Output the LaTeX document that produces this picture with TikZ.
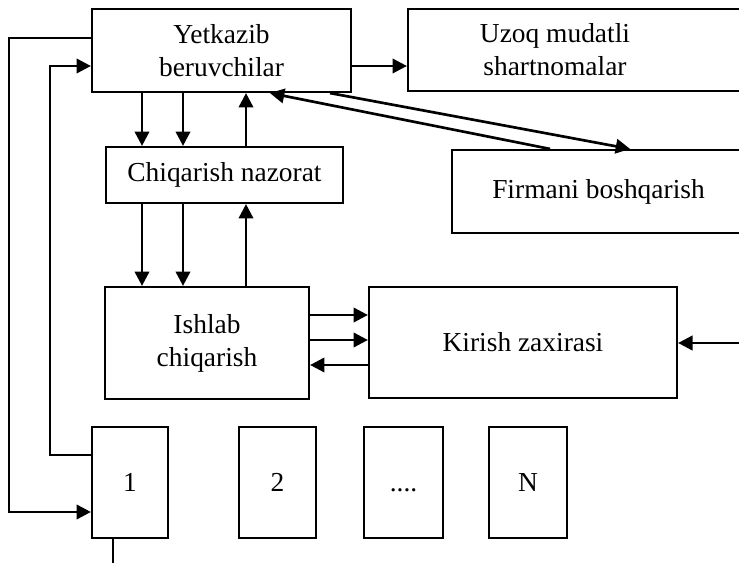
\documentclass[tikz,border=0pt]{standalone}
\usepackage{fontspec}
\setmainfont{Liberation Serif}
\usetikzlibrary{arrows.meta}
\tikzset{
  blok/.style={draw, line width=1.5pt, inner sep=0pt, align=center},
  arr/.style={-{Triangle[length=3.6mm, width=3.6mm]}, line width=1.9pt},
  lin/.style={line width=1.9pt}
}
\newcommand{\blok}[6]{%
  \node[blok, minimum width=#4, minimum height=#5] (#1) at (#2,#3) {#6};}

\begin{document}
\begin{tikzpicture}[x=0.025cm, y=-0.025cm,
    font=\fontsize{19.5}{23.5}\selectfont]
  \useasboundingbox (0,0) rectangle (739,563);
  % boxes
  \blok{yet}{221.5}{50.5}{6.475cm}{2.075cm}{Yetkazib\\beruvchilar}
  \blok{uzoq}{576.5}{50}{8.425cm}{2.05cm}{}
  \node[align=center] (uzoqtxt) at (555,50) {Uzoq mudatli\\shartnomalar};
  \blok{firm}{598.5}{191.5}{7.325cm}{2.075cm}{Firmani boshqarish}
  \blok{chiq}{224.5}{175}{5.925cm}{1.4cm}{Chiqarish nazorat}
  \blok{ishlab}{207}{343}{5.1cm}{2.8cm}{Ishlab\\chiqarish}
  \blok{kirish}{523}{342.5}{7.7cm}{2.775cm}{Kirish zaxirasi}
  \blok{b1}{130}{482.5}{1.9cm}{2.775cm}{1}
  \blok{b2}{277.5}{482.5}{1.925cm}{2.775cm}{2}
  \blok{b3}{403.5}{482.5}{1.975cm}{2.775cm}{\vphantom{1}....}
  \blok{bN}{528}{482.5}{1.95cm}{2.775cm}{N}
  % columns and rows for the connectors
  \coordinate (cA) at (142,0);
  \coordinate (cB) at (183,0);
  \coordinate (cC) at (246,0);
  \coordinate (rA) at (0,315);
  \coordinate (rB) at (0,340);
  \coordinate (rC) at (0,365);
  \coordinate (rY) at (0,66);
  \coordinate (outA) at (9,38);
  \coordinate (outB) at (9,512);
  \coordinate (inA) at (50,455);
  \coordinate (inB) at (50,66);
  \coordinate (kin) at (739,343);
  \coordinate (bout) at (113,563);
  % connectors
  \draw[arr] (rY -| yet.east) -- (rY -| uzoq.west);
  \draw[arr] (cA |- yet.south) -- (cA |- chiq.north);
  \draw[arr] (cB |- yet.south) -- (cB |- chiq.north);
  \draw[arr] (cC |- chiq.north) -- (cC |- yet.south);
  \draw[arr] (cA |- chiq.south) -- (cA |- ishlab.north);
  \draw[arr] (cB |- chiq.south) -- (cB |- ishlab.north);
  \draw[arr] (cC |- ishlab.north) -- (cC |- chiq.south);
  \draw[arr] (rA -| ishlab.east) -- (rA -| kirish.west);
  \draw[arr] (rB -| ishlab.east) -- (rB -| kirish.west);
  \draw[arr] (rC -| kirish.west) -- (rC -| ishlab.east);
  \draw[arr] ([xshift=-1.21cm]firm.north) -- ([xshift=1.21cm]yet.south);
  \draw[arr] ([xshift=2.71cm]yet.south) -- ([xshift=0.79cm]firm.north);
  \draw[arr] (kin) -- (kin -| kirish.east);
  \draw[arr] (outA -| yet.west) -- (outA) -- (outB) -- (outB -| b1.west);
  \draw[arr] (inA -| b1.west) -- (inA) -- (inB) -- (inB -| yet.west);
  \draw[lin] (bout |- b1.south) -- (bout);
\end{tikzpicture}
\end{document}
